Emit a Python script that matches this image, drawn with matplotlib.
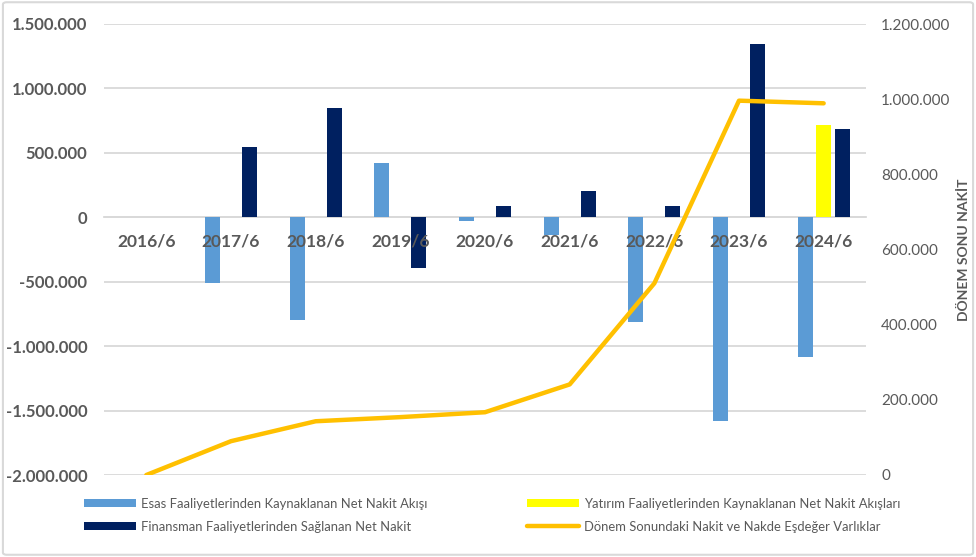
import numpy as np
import matplotlib
matplotlib.use('Agg')
import matplotlib.pyplot as plt
from matplotlib.patches import FancyBboxPatch
from matplotlib.ticker import FuncFormatter

plt.rcParams['font.family'] = ['Lato', 'DejaVu Sans']

donem = ['2016/6', '2017/6', '2018/6', '2019/6', '2020/6', '2021/6', '2022/6', '2023/6', '2024/6']
esas = [0, -510000, -800000, 420000, -25000, -135000, -810000, -1580000, -1085000]
yatirim = [0, 0, 0, 0, 0, 0, 0, 0, 720000]
finansman = [0, 545000, 850000, -395000, 90000, 205000, 90000, 1345000, 685000]
nakit = [0, 90000, 143000, 154000, 167000, 241000, 510000, 996000, 989000]

gri = '#595959'

def tr_fmt(v, pos):
    return '{:,.0f}'.format(v).replace(',', '.')

fig = plt.figure(figsize=(9.76, 5.57), dpi=100)
ax = fig.add_axes([104/976, 1-475/557, 762/976, 451/557])
ax2 = ax.twinx()

x = np.arange(len(donem))
w = 0.177
sp = 0.218
b1 = ax.bar(x - sp, esas, w, color='#5B9BD5', label='Esas Faaliyetlerinden Kaynaklanan Net Nakit Akışı', zorder=3)
b2 = ax.bar(x, yatirim, w, color='#FFFF00', label='Yatırım Faaliyetlerinden Kaynaklanan Net Nakit Akışları', zorder=3)
b3 = ax.bar(x + sp, finansman, w, color='#002060', label='Finansman Faaliyetlerinden Sağlanan Net Nakit', zorder=3)
l1, = ax2.plot(x, nakit, color='#FFC000', lw=3.2, solid_capstyle='round',
               label='Dönem Sonundaki Nakit ve Nakde Eşdeğer Varlıklar', zorder=4)

ax.set_xlim(-0.5, len(donem) - 0.5)
ax.set_ylim(-2000000, 1500000)
ax.set_yticks(np.arange(-2000000, 1500001, 500000))
ax.yaxis.set_major_formatter(FuncFormatter(tr_fmt))
ax.grid(axis='y', color='#D9D9D9', lw=1.3, zorder=0)
ax.set_axisbelow(True)

ax2.set_ylim(0, 1200000)
ax2.set_yticks(np.arange(0, 1200001, 200000))
ax2.yaxis.set_major_formatter(FuncFormatter(tr_fmt))

for a in (ax, ax2):
    for s in a.spines.values():
        s.set_visible(False)

ax.spines['bottom'].set_visible(True)
ax.spines['bottom'].set_position(('data', 0))
ax.spines['bottom'].set_color('#D9D9D9')
ax.spines['bottom'].set_linewidth(1.3)
ax.set_xticks(x)
ax.set_xticklabels(donem)
ax.xaxis.set_zorder(5)
ax.tick_params(axis='x', length=0, pad=12, labelsize=12.5, labelcolor=gri)
for t in ax.get_xticklabels():
    t.set_fontweight('bold')
ax.tick_params(axis='y', length=0, pad=12, labelsize=12, labelcolor=gri)
for t in ax.get_yticklabels():
    t.set_fontweight('bold')
ax2.tick_params(axis='y', length=0, pad=11, labelsize=11, labelcolor=gri)
ax2.set_ylabel('DÖNEM SONU NAKİT', color=gri, fontsize=10, fontweight='bold', labelpad=5)

fig.legend([b1, b3, b2, l1],
           [b1.get_label(), b3.get_label(), b2.get_label(), l1.get_label()],
           ncol=2, loc='upper left', bbox_to_anchor=(72/976, 1-486/557),
           frameon=False, fontsize=9.4, labelcolor=gri, handlelength=4.0,
           handleheight=0.6, columnspacing=7.6, labelspacing=0.85, handletextpad=0.4)

fig.patches.append(FancyBboxPatch((0.003, 0.004), 0.994, 0.992, boxstyle='round,pad=0,rounding_size=0.004',
                                  transform=fig.transFigure, fill=False, ec='#D9D9D9', lw=1.5))

fig.savefig('out.png', dpi=100)
